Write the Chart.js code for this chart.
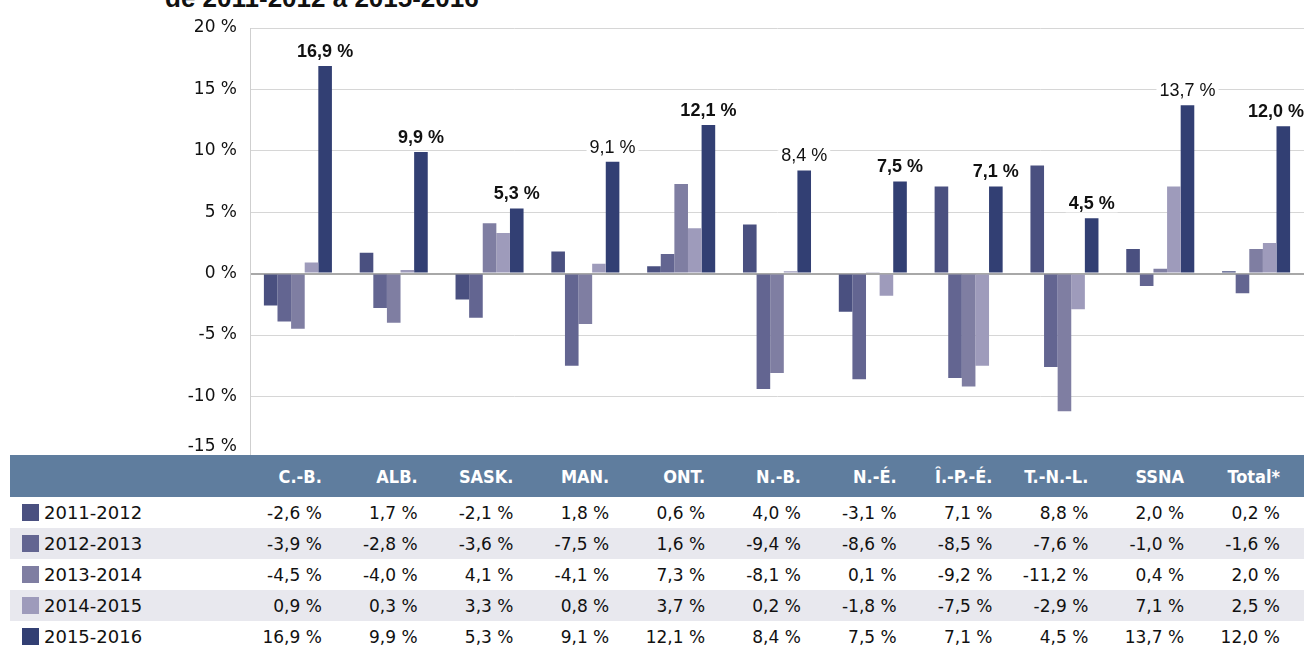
<!DOCTYPE html>
<html>
<head>
<meta charset="utf-8">
<script src="https://cdn.jsdelivr.net/npm/chart.js@4.4.1/dist/chart.umd.min.js"></script>
<style>
  body { margin: 0; background: #fff; width: 1304px; height: 652px; overflow: hidden; position: relative; }
  #title { position: absolute; left: 165px; top: -17px; font: bold 26px "Liberation Sans", Arial, sans-serif; color: #111; white-space: nowrap; }
  #box { position: absolute; left: 0; top: 0; width: 1304px; height: 481px; }
  table { position: absolute; left: 10px; top: 455px; width: 1294px; border-collapse: collapse; table-layout: fixed; z-index: 2; background: #fff; }
  th, td { padding: 0 24px 0 0; text-align: right; white-space: nowrap; }
  th { background: #5f7d9e; color: #fff; height: 42px; font: bold 18px "DejaVu Sans Condensed", "Liberation Sans Narrow", sans-serif; }
  td { height: 31px; font: 17px "DejaVu Sans", sans-serif; color: #111; }
  tr.alt td { background: #e8e8ee; }
  td.name { text-align: left; padding-left: 12px; font-size: 18px; }
  .sw { display: inline-block; width: 17px; height: 17px; vertical-align: -2px; margin-right: 5px; }
</style>
</head>
<body>
<div id="title">de 2011-2012 à 2015-2016</div>
<div id="box"><canvas id="Chart"></canvas></div>
<table id="tbl"></table>
<script>
const categories = ['C.-B.', 'ALB.', 'SASK.', 'MAN.', 'ONT.', 'N.-B.', 'N.-É.', 'Î.-P.-É.', 'T.-N.-L.', 'SSNA', 'Total*'];
const periods = ['2011-2012', '2012-2013', '2013-2014', '2014-2015', '2015-2016'];
const v2011 = [-2.6, 1.7, -2.1, 1.8, 0.6, 4.0, -3.1, 7.1, 8.8, 2.0, 0.2];
const v2012 = [-3.9, -2.8, -3.6, -7.5, 1.6, -9.4, -8.6, -8.5, -7.6, -1.0, -1.6];
const v2013 = [-4.5, -4.0, 4.1, -4.1, 7.3, -8.1, 0.1, -9.2, -11.2, 0.4, 2.0];
const v2014 = [0.9, 0.3, 3.3, 0.8, 3.7, 0.2, -1.8, -7.5, -2.9, 7.1, 2.5];
const v2015 = [16.9, 9.9, 5.3, 9.1, 12.1, 8.4, 7.5, 7.1, 4.5, 13.7, 12.0];
const yTicks = [-15, -10, -5, 0, 5, 10, 15, 20];

const series = [v2011, v2012, v2013, v2014, v2015];
const colors = ['#4a5080', '#636591', '#7f7ea2', '#9e9bbb', '#323f73'];
// which labels over the last series are bold
const labelBold = [true, true, true, false, true, false, true, true, true, false, true];

const fmt = v => v.toFixed(1).replace('.', ',') + ' %';

// table under the chart
const tbl = document.getElementById('tbl');
let html = '<colgroup><col style="width:240px">' + categories.map(() => '<col>').join('') + '</colgroup>';
html += '<tr><th></th>' + categories.map(c => '<th>' + c + '</th>').join('') + '</tr>';
periods.forEach((p, i) => {
  html += '<tr' + (i % 2 ? ' class="alt"' : '') + '><td class="name"><span class="sw" style="background:' + colors[i] + '"></span>' + p + '</td>';
  html += series[i].map(v => '<td>' + fmt(v) + '</td>').join('') + '</tr>';
});
tbl.innerHTML = html;

const valueLabels = {
  id: 'valueLabels',
  afterDatasetsDraw(chart) {
    const ctx = chart.ctx;
    const meta = chart.getDatasetMeta(4);
    ctx.save();
    ctx.textBaseline = 'bottom';
    ctx.textAlign = 'center';
    meta.data.forEach((bar, i) => {
      ctx.font = (labelBold[i] ? 'bold ' : '') + '18px "Liberation Sans", Arial, sans-serif';
      const txt = fmt(v2015[i]);
      const w = ctx.measureText(txt).width;
      let x = bar.x;
      if (x + w / 2 > chart.width) x = chart.width - w / 2;
      const y = bar.y - 5;
      ctx.fillStyle = '#fff';
      ctx.fillRect(x - w / 2 - 3, y - 17, w + 6, 16);
      ctx.fillStyle = '#111';
      ctx.fillText(txt, x, y);
    });
    // bottom tick label sits a bit higher than its grid line
    const ys = chart.scales.y;
    ctx.font = '17px "DejaVu Sans", sans-serif';
    ctx.textAlign = 'right';
    ctx.textBaseline = 'middle';
    ctx.fillStyle = '#111';
    ctx.fillText(fmt(-15).replace(',0', ''), ys.right - 13, ys.getPixelForValue(-15) - 11);
    ctx.restore();
  }
};

const config = {
  type: 'bar',
  data: {
    labels: categories,
    datasets: periods.map((p, i) => ({
      label: p,
      data: series[i],
      backgroundColor: colors[i],
      borderWidth: 0,
      barPercentage: 1,
      categoryPercentage: 0.71
    }))
  },
  options: {
    responsive: true,
    maintainAspectRatio: false,
    animation: false,
    devicePixelRatio: 1,
    layout: { padding: { top: 28, left: 0, right: 0, bottom: 0 } },
    scales: {
      x: { display: false },
      y: {
        min: -15,
        max: 20,
        afterBuildTicks: s => { s.ticks = yTicks.map(v => ({ value: v })); },
        afterFit: s => { s.width = 250; },
        ticks: {
          padding: 13,
          color: '#111',
          font: { family: '"DejaVu Sans", sans-serif', size: 17 },
          callback: v => v === -15 ? '' : v + ' %'
        },
        grid: {
          drawTicks: false,
          color: c => c.tick && c.tick.value === 0 ? '#a8a8a8' : '#d6d6d6',
          lineWidth: c => c.tick && c.tick.value === 0 ? 2 : 1
        },
        border: { color: '#cfcfcf' }
      }
    },
    plugins: {
      legend: { display: false },
      tooltip: { enabled: false }
    }
  },
  plugins: [valueLabels]
};

const myChart = new Chart(document.getElementById('Chart'), config);
</script>
</body>
</html>
